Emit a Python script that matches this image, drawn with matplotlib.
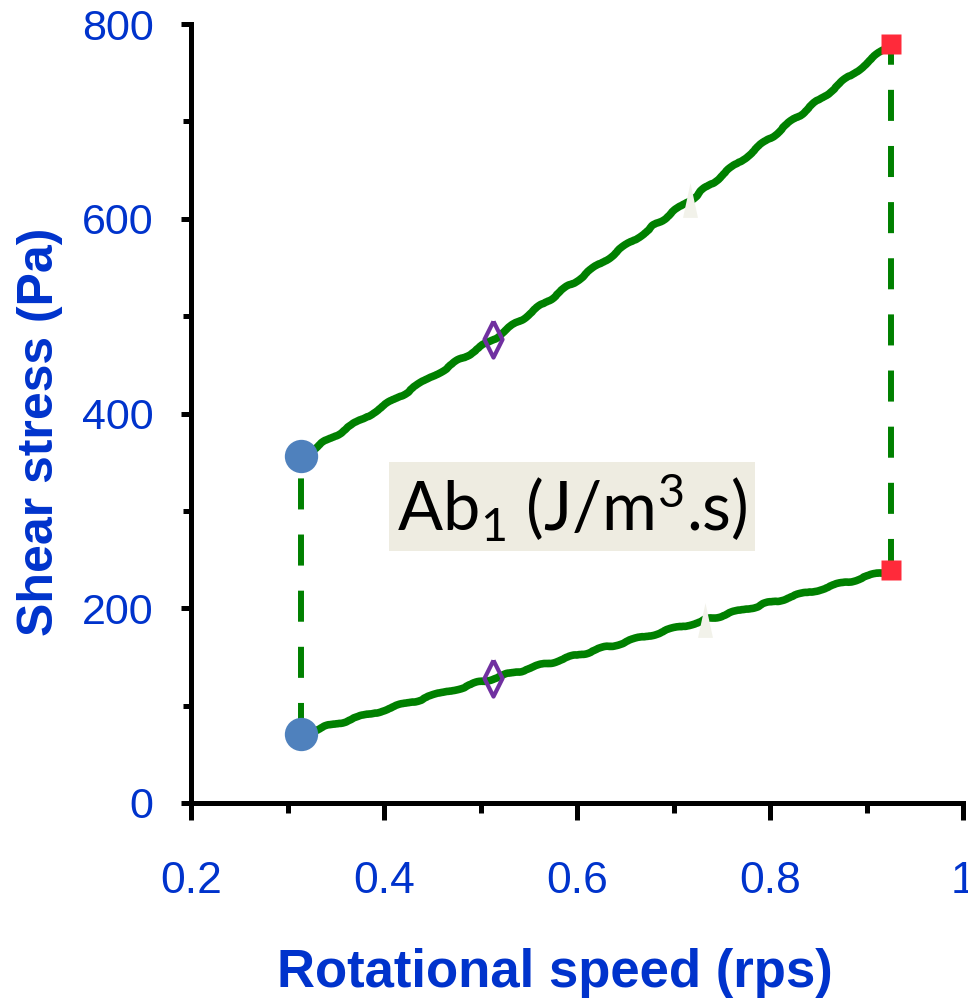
import matplotlib
matplotlib.use('Agg')
import matplotlib.pyplot as plt
import numpy as np

plt.rcParams['font.family'] = ['Liberation Sans', 'DejaVu Sans']
plt.rcParams['mathtext.fontset'] = 'custom'
plt.rcParams['mathtext.rm'] = 'Lato'
plt.rcParams['mathtext.it'] = 'Lato'

# data
upper_speed = [0.314, 0.513, 0.717, 0.925]
upper_stress = [356, 476, 619, 779]
lower_speed = [0.314, 0.513, 0.733, 0.925]
lower_stress = [71, 128, 188, 239]

x_ticks = [0.2, 0.4, 0.6, 0.8, 1.0]
x_ticklabels = ['0.2', '0.4', '0.6', '0.8', '1']
y_ticks = [0, 200, 400, 600, 800]

green = '#008000'
blue_txt = '#0033CC'

fig = plt.figure(figsize=(9.68, 10.01), dpi=100)
ax = fig.add_axes([191/968, 198/1001, 772/968, 779/1001])

# curves (slightly wobbly, as in the original)
for xs, ys in [(upper_speed, upper_stress), (lower_speed, lower_stress)]:
    ln, = ax.plot(xs, ys, color=green, linewidth=5.5, solid_capstyle='round', zorder=2)
    ln.set_sketch_params(scale=1.2, length=45, randomness=3)

# vertical dashed connectors
for i in [0, -1]:
    ax.plot([lower_speed[i], upper_speed[i]], [lower_stress[i], upper_stress[i]],
            color=green, linewidth=4.3, dashes=(5.2, 4.2), zorder=1)

# markers
tri = [(0, 1), (-0.43, -1), (0.43, -1), (0, 1)]
dia = [(0, 1), (0.5, 0), (0, -1), (-0.5, 0), (0, 1)]
for xs, ys in [(upper_speed, upper_stress), (lower_speed, lower_stress)]:
    ax.plot(xs[0], ys[0], 'o', ms=24, color='#4F81BD', mec='none', zorder=4)
    ax.plot(xs[1], ys[1], marker=dia, ms=26, mfc='none', mec='#7030A0', mew=3,
            linestyle='None', zorder=4)
    ax.plot(xs[2], ys[2], marker=tri, ms=25, color='#F2F2EA', mec='none',
            linestyle='None', zorder=4)
    ax.plot(xs[3], ys[3], 's', ms=14.5, color='#FF2A3A', mec='none', zorder=4)

ax.text(0.595, 304, r'Ab$_1$ (J/m$^3$.s)', fontsize=48, family='Lato',
        ha='center', va='center', zorder=5,
        bbox=dict(boxstyle='square,pad=0.12', facecolor='#EEECE1', edgecolor='none'))

ax.set_xlim(0.2, 1.0)
ax.set_ylim(0, 800)
ax.set_xticks(x_ticks)
ax.set_xticklabels(x_ticklabels)
ax.set_xticks([0.3, 0.5, 0.7, 0.9], minor=True)
ax.set_yticks(y_ticks)
ax.set_yticks([100, 300, 500, 700], minor=True)

for s in ['top', 'right']:
    ax.spines[s].set_visible(False)
for s in ['left', 'bottom']:
    ax.spines[s].set_linewidth(3.6)

ax.tick_params(axis='x', which='major', length=12, width=3.6, direction='out',
               labelsize=32, labelcolor=blue_txt, pad=30)
ax.tick_params(axis='x', which='minor', length=7, width=3.6, direction='out')
ax.tick_params(axis='y', which='major', length=7, width=3.6, direction='out',
               labelsize=31, labelcolor=blue_txt, pad=20)
ax.tick_params(axis='y', which='minor', length=6, width=3.6, direction='out')

fig.text(555/968, 1 - 987/1001, 'Rotational speed (rps)', fontsize=38, fontweight='bold',
         color=blue_txt, ha='center', va='baseline')
fig.text(40/968, 1 - 432/1001, 'Shear stress (Pa)', fontsize=36, fontweight='bold',
         color=blue_txt, ha='center', va='center', rotation=90)

fig.savefig('out.png', dpi=100)
